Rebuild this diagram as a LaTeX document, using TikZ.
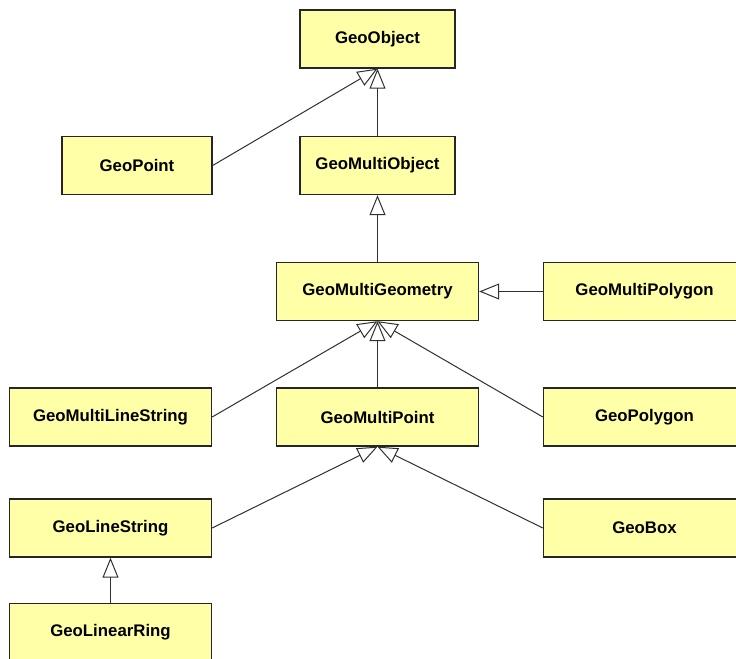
\documentclass[tikz,border=0pt]{standalone}
\usepackage{fontspec}
\setmainfont{Liberation Sans}
\usetikzlibrary{arrows.meta}
\definecolor{classfill}{HTML}{FFFFA8}
\definecolor{edgegray}{HTML}{303030}
\begin{document}
\begin{tikzpicture}[x=0.75pt,y=-0.75pt,
  cls/.style={draw=black!85, line width=1pt, fill=classfill,
    minimum height=43.5pt, inner sep=0pt,
    font=\fontsize{12.6}{14}\selectfont\bfseries},
  narrow/.style={cls, minimum width=116.25pt},
  wide/.style={cls, minimum width=151.5pt},
  inherit/.style={draw=edgegray, line width=0.75pt,
    -{Triangle[open, length=15pt, width=12pt, line width=0.75pt]}}]
\useasboundingbox (0,0) rectangle (736,658);
\clip (0,0) rectangle (736,658);

% class boxes
\node[narrow] (obj)   at (377.5,39)    {GeoObject};
\node[narrow, minimum width=112.5pt] (pt) at (137,165.5) {GeoPoint};
\node[narrow] (mobj)  at (377.5,165.5) {GeoMultiObject};
\node[wide]   (mgeo)  at (377.5,291.5) {GeoMultiGeometry};
\node[wide]   (mpoly) at (644.5,291.5) {GeoMultiPolygon};
\node[wide]   (mls)   at (110.5,417)   {GeoMultiLineString};
\node[wide]   (mpt)   at (377.5,417)   {GeoMultiPoint};
\node[wide]   (poly)  at (644.5,417)   {GeoPolygon};
\node[wide]   (ls)    at (110.5,528)   {GeoLineString};
\node[wide]   (box)   at (644.5,528)   {GeoBox};
\node[wide]   (ring)  at (110.5,632.5) {GeoLinearRing};

% generalisation arrows
\draw[inherit] (pt.east)    -- (obj.south);
\draw[inherit] (mobj.north) -- (obj.south);
\draw[inherit] (mgeo.north) -- (mobj.south);
\draw[inherit] (mpoly.west) -- (mgeo.east);
\draw[inherit] (mls.east)   -- (mgeo.south);
\draw[inherit] (mpt.north)  -- (mgeo.south);
\draw[inherit] (poly.west)  -- (mgeo.south);
\draw[inherit] (ls.east)    -- (mpt.south);
\draw[inherit] (box.west)   -- (mpt.south);
\draw[inherit] (ring.north) -- (ls.south);
\end{tikzpicture}
\end{document}
